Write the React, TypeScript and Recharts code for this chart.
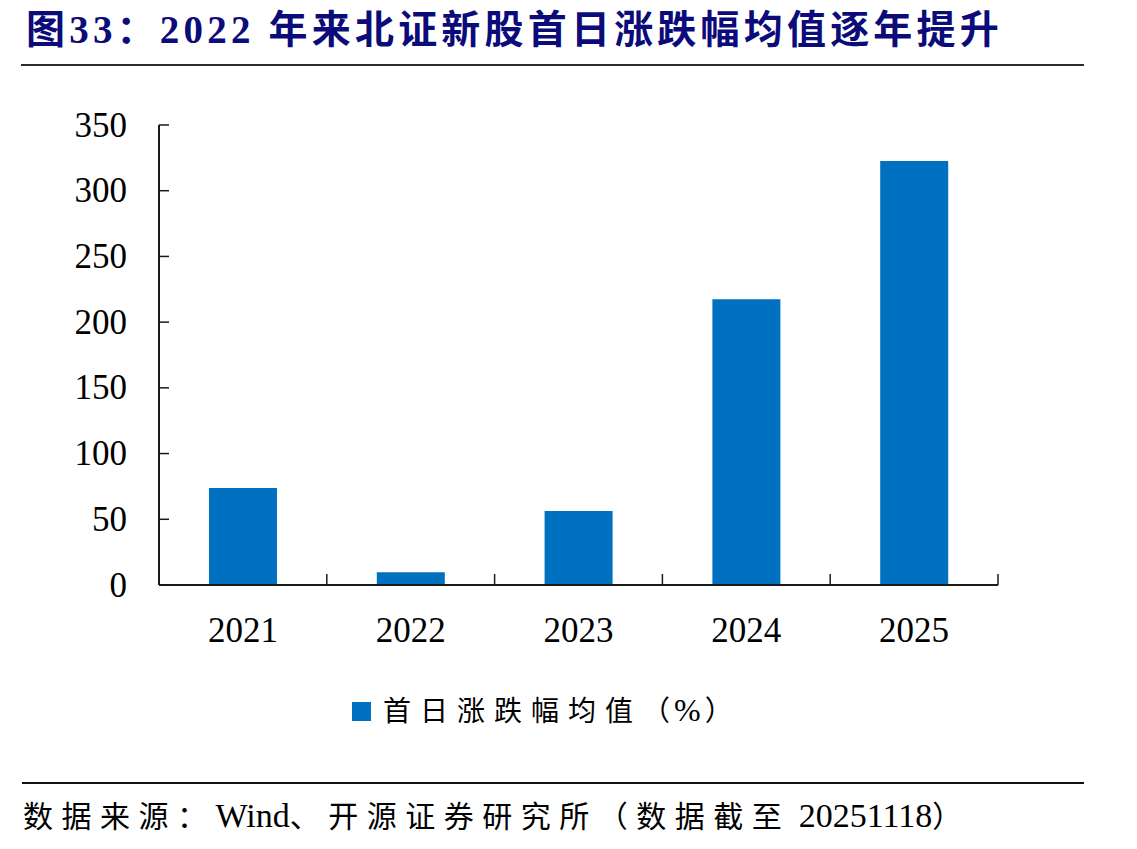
import React from "react";
import { BarChart, Bar, XAxis, YAxis } from "recharts";

// Mean first-day return of new BSE listings, by listing year (%)
const years = ["2021", "2022", "2023", "2024", "2025"];
const firstDayReturn = [73.8, 9.7, 56.3, 217.4, 322.6];
const yTicks = [0, 50, 100, 150, 200, 250, 300, 350];

const titleText = "图33：2022 年来北证新股首日涨跌幅均值逐年提升";
const legendLabel = "首日涨跌幅均值";
const legendUnit = "（%）";
// source line split so the Latin runs keep natural spacing
const sourceParts = [
  { text: "数据来源：", latin: false },
  { text: "Wind", latin: true },
  { text: "、开源证券研究所（数据截至", latin: false },
  { text: " 20251118", latin: true },
  { text: "）", latin: false },
];

const data = years.map((year, i) => ({ year, value: firstDayReturn[i] }));

const W = 1137;
const H = 849;
const CHART_H = 680;
const PLOT_LEFT = 159;
const PLOT_RIGHT = 998;
const PLOT_TOP = 125;
const PLOT_BOTTOM = 585;
const Y_AXIS_W = 60;
const X_AXIS_H = 60;
const BAND = (PLOT_RIGHT - PLOT_LEFT) / years.length;

const BAR_COLOR = "#0070C0";
const AXIS_COLOR = "#1a1a1a";
const SERIF = '"Liberation Serif", "Times New Roman", "Noto Sans CJK SC", serif';
const CJK = '"Liberation Serif", "Noto Sans CJK SC", sans-serif';

const YTick = (props: any) => {
  const { y, payload } = props;
  return (
    <g>
      <line x1={PLOT_LEFT} x2={PLOT_LEFT + 10} y1={y} y2={y} stroke={AXIS_COLOR} strokeWidth={1.5} />
      <text
        x={127}
        y={y}
        textAnchor="end"
        dominantBaseline="central"
        fontFamily={SERIF}
        fontSize={35}
        fill="#000"
      >
        {payload.value}
      </text>
    </g>
  );
};

const XTick = (props: any) => {
  const { x, payload } = props;
  const right = x + BAND / 2;
  return (
    <g>
      <line x1={right} x2={right} y1={PLOT_BOTTOM} y2={PLOT_BOTTOM - 11} stroke={AXIS_COLOR} strokeWidth={1.5} />
      <text
        x={x}
        y={630}
        textAnchor="middle"
        dominantBaseline="central"
        fontFamily={SERIF}
        fontSize={35}
        fill="#000"
      >
        {payload.value}
      </text>
    </g>
  );
};

export default function App() {
  return (
    <div
      style={{
        position: "absolute",
        left: 0,
        top: 0,
        width: W,
        height: H,
        background: "#fff",
        overflow: "hidden",
      }}
    >
      <div
        style={{
          position: "absolute",
          left: 26,
          top: 6,
          whiteSpace: "nowrap",
          fontFamily: CJK,
          fontWeight: 700,
          fontSize: 39,
          lineHeight: "48px",
          letterSpacing: 4.2,
          color: "#0b0b7a",
        }}
      >
        {titleText}
      </div>
      <div
        style={{
          position: "absolute",
          left: 21,
          top: 64,
          width: 1063,
          height: 2,
          background: "#2b2b2b",
        }}
      />

      <div style={{ position: "absolute", left: 0, top: 0 }}>
        <BarChart
          width={W}
          height={CHART_H}
          data={data}
          margin={{
            top: PLOT_TOP,
            right: W - PLOT_RIGHT,
            left: PLOT_LEFT - Y_AXIS_W,
            bottom: CHART_H - PLOT_BOTTOM - X_AXIS_H,
          }}
        >
          <XAxis
            dataKey="year"
            height={X_AXIS_H}
            axisLine={{ stroke: AXIS_COLOR, strokeWidth: 2 }}
            tickLine={false}
            tick={<XTick />}
            interval={0}
          />
          <YAxis
            width={Y_AXIS_W}
            domain={[0, 350]}
            ticks={yTicks}
            axisLine={{ stroke: AXIS_COLOR, strokeWidth: 2 }}
            tickLine={false}
            tick={<YTick />}
            interval={0}
          />
          <Bar dataKey="value" fill={BAR_COLOR} barSize={68} isAnimationActive={false} />
        </BarChart>
      </div>

      <div
        style={{
          position: "absolute",
          left: 352,
          top: 690,
          display: "flex",
          alignItems: "center",
          whiteSpace: "nowrap",
        }}
      >
        <div style={{ width: 19, height: 19, background: BAR_COLOR, marginRight: 12 }} />
        <span
          style={{
            fontFamily: CJK,
            fontSize: 28,
            lineHeight: "40px",
            letterSpacing: 9,
            color: "#000",
          }}
        >
          {legendLabel}
          <span style={{ letterSpacing: 4 }}>{legendUnit[0]}</span>
          <span style={{ fontSize: 32, letterSpacing: 4 }}>{legendUnit[1]}</span>
          <span>{legendUnit[2]}</span>
        </span>
      </div>

      <div
        style={{
          position: "absolute",
          left: 22,
          top: 782,
          width: 1062,
          height: 1.5,
          background: "#111",
        }}
      />
      <div
        style={{
          position: "absolute",
          left: 23,
          top: 796,
          whiteSpace: "nowrap",
          fontFamily: CJK,
          lineHeight: "40px",
          color: "#000",
        }}
      >
        {sourceParts.map((p, i) => (
          <span
            key={i}
            style={p.latin ? { fontSize: 34, letterSpacing: 0 } : { fontSize: 30, letterSpacing: 8.5 }}
          >
            {p.text}
          </span>
        ))}
      </div>
    </div>
  );
}
